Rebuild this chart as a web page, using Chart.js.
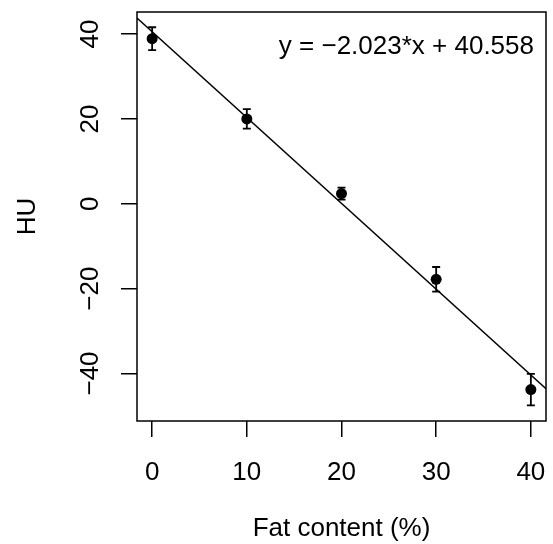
<!DOCTYPE html>
<html>
<head>
<meta charset="utf-8">
<script src="https://cdn.jsdelivr.net/npm/chart.js@4/dist/chart.umd.min.js"></script>
<style>
  body { margin: 0; background: #fff; }
  #wrap { width: 553px; height: 544px; }
</style>
</head>
<body>
<div id="wrap"><canvas id="chart" width="553" height="544"></canvas></div>
<script>
// Data
const fatContent = [0, 10, 20, 30, 40];
const huMean = [38.9, 20.0, 2.4, -17.8, -43.8];
const huErr = [2.7, 2.3, 1.4, 2.9, 3.7];

// Fitted line from the equation in the plot
const fitSlope = -2.023;
const fitIntercept = 40.558;
const fitLabel = "y = \u22122.023*x + 40.558";

// Axis ticks and ranges
const xTicks = [0, 10, 20, 30, 40];
const yTicks = [-40, -20, 0, 20, 40];
const xRange = [-1.6, 41.6];
const yRange = [-51.2, 45.2];

const FONT = "'Liberation Sans', Arial, Helvetica, sans-serif";
const FSIZE = 26;

function fmt(v) {
    return v < 0 ? "\u2212" + Math.abs(v) : String(v);
}

// points and fitted line data
const pointData = fatContent.map((x, i) => ({ x: x, y: huMean[i] }));
const lineData = xRange.map(x => ({ x: x, y: fitSlope * x + fitIntercept }));

// no extra padding from label overhang, the box is fixed
function noPad(s) {
    s.paddingLeft = 0;
    s.paddingRight = 0;
    s.paddingTop = 0;
    s.paddingBottom = 0;
}

// box, error bars and equation text
const extras = {
    id: "extras",
    beforeDatasetsDraw(chart) {
        const ctx = chart.ctx;
        const xs = chart.scales.x;
        const ys = chart.scales.y;
        ctx.save();
        ctx.strokeStyle = "#000";
        ctx.lineWidth = 1.8;
        for (let i = 0; i < fatContent.length; i++) {
            const px = xs.getPixelForValue(fatContent[i]);
            const top = ys.getPixelForValue(huMean[i] + huErr[i]);
            const bot = ys.getPixelForValue(huMean[i] - huErr[i]);
            ctx.beginPath();
            ctx.moveTo(px, top);
            ctx.lineTo(px, bot);
            ctx.moveTo(px - 4, top);
            ctx.lineTo(px + 4, top);
            ctx.moveTo(px - 4, bot);
            ctx.lineTo(px + 4, bot);
            ctx.stroke();
        }
        ctx.restore();
    },
    afterDraw(chart) {
        const ctx = chart.ctx;
        const a = chart.chartArea;
        ctx.save();
        ctx.strokeStyle = "#000";
        ctx.lineWidth = 1.5;
        ctx.strokeRect(a.left, a.top, a.right - a.left, a.bottom - a.top);
        ctx.fillStyle = "#000";
        ctx.font = FSIZE + "px " + FONT;
        ctx.textAlign = "right";
        ctx.textBaseline = "alphabetic";
        ctx.fillText(fitLabel, a.right - 12, a.top + 42);
        ctx.restore();
    }
};

const ctx = document.getElementById("chart").getContext("2d");
const myChart = new Chart(ctx, {
    type: "scatter",
    data: {
        datasets: [
            {
                data: lineData,
                showLine: true,
                borderColor: "#000",
                borderWidth: 1.5,
                pointRadius: 0,
                fill: false
            },
            {
                data: pointData,
                pointRadius: 5.5,
                pointBackgroundColor: "#000",
                pointBorderColor: "#000",
                pointBorderWidth: 0
            }
        ]
    },
    options: {
        responsive: false,
        animation: false,
        layout: { padding: { top: 12, right: 7, left: 0, bottom: 0 } },
        plugins: {
            legend: { display: false },
            tooltip: { enabled: false }
        },
        scales: {
            x: {
                type: "linear",
                min: xRange[0],
                max: xRange[1],
                afterBuildTicks: s => { s.ticks = xTicks.map(v => ({ value: v })); },
                afterFit: s => { s.height = 123; noPad(s); },
                border: { display: false },
                grid: { drawOnChartArea: false, tickLength: 16, color: "#000", lineWidth: 1.5 },
                ticks: {
                    color: "#000",
                    font: { family: FONT, size: FSIZE },
                    padding: 20,
                    maxRotation: 0,
                    callback: v => fmt(v)
                },
                title: {
                    display: true,
                    text: "Fat content (%)",
                    color: "#000",
                    font: { family: FONT, size: FSIZE },
                    padding: { top: 0, bottom: 0 }
                }
            },
            y: {
                type: "linear",
                min: yRange[0],
                max: yRange[1],
                afterBuildTicks: s => { s.ticks = yTicks.map(v => ({ value: v })); },
                afterFit: s => { s.width = 137; noPad(s); },
                border: { display: false },
                grid: { drawOnChartArea: false, tickLength: 16, color: "#000", lineWidth: 1.5 },
                ticks: {
                    color: "#000",
                    font: { family: FONT, size: FSIZE },
                    padding: 8,
                    minRotation: 90,
                    maxRotation: 90,
                    crossAlign: "center",
                    callback: v => fmt(v)
                },
                title: {
                    display: true,
                    text: "HU",
                    color: "#000",
                    font: { family: FONT, size: FSIZE },
                    padding: { top: 12, bottom: 0 }
                }
            }
        }
    },
    plugins: [extras]
});
</script>
</body>
</html>
